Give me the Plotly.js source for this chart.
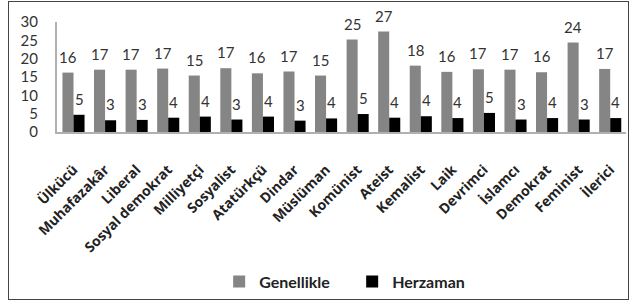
<!DOCTYPE html>
<html>
<head>
<meta charset="utf-8">
<script src="https://cdn.plot.ly/plotly-3.0.1.min.js"></script>
<style>
html,body{margin:0;padding:0;background:#fff;}
#wrap{position:relative;width:630px;height:302px;}
#chart{width:630px;height:302px;}
#frame{position:absolute;left:8px;top:1px;width:619px;height:297px;border:1.5px solid #444;pointer-events:none;}
</style>
</head>
<body>
<div id="wrap"><div id="chart"></div><div id="frame"></div></div>
<script>
const categories = ["Ülkücü","Muhafazakâr","Liberal","Sosyal demokrat","Milliyetçi","Sosyalist","Atatürkçü","Dindar","Müslüman","Komünist","Ateist","Kemalist","Laik","Devrimci","İslamcı","Demokrat","Feminist","İlerici"];
const genellikle = [16.2,17.0,17.0,17.3,15.4,17.4,16.0,16.5,15.4,25.2,27.4,18.1,16.4,17.1,17.0,16.3,24.4,17.2];
const herzaman   = [4.7,3.2,3.3,3.9,4.2,3.4,4.2,3.1,3.7,4.9,3.9,4.3,3.8,5.2,3.4,3.8,3.4,3.8];
const seriesNames = ["Genellikle","Herzaman"];
const yTicks = [0,5,10,15,20,25,30];

const fontFam = "Lato, 'Open Sans', sans-serif";
const traces = [
  {type:"bar", name:seriesNames[0], x:categories, y:genellikle, marker:{color:"#858585"}},
  {type:"bar", name:seriesNames[1], x:categories, y:herzaman, marker:{color:"#000"}}
];
const labelFont = {family:fontFam,size:15,color:"#333"};
const annotations = [];
[genellikle, herzaman].forEach((vals, s) => {
  vals.forEach((v, i) => {
    annotations.push({x:categories[i], y:v, xref:"x", yref:"y", text:String(Math.round(v)),
      showarrow:false, yanchor:"bottom", xanchor:"center", xshift:(s===0?-5.5:5.5), yshift:5,
      font:labelFont});
  });
});
const layout = {
  width:630, height:302,
  margin:{l:57, r:4, t:22, b:166},
  paper_bgcolor:"#fff", plot_bgcolor:"#fff",
  barmode:"group", bargap:0.3, bargroupgap:0,
  showlegend:true,
  legend:{orientation:"h", x:0.285, xanchor:"left", y:-1.36, yanchor:"middle",
          entrywidth:88,
          font:{family:fontFam,size:16,color:"#222",weight:"bold"}, itemwidth:30, tracegroupgap:0},
  xaxis:{tickangle:-45, showline:true, linecolor:"#b0b0b0", linewidth:2, ticks:"",
         ticklabelstandoff:22,
         tickfont:{family:"'Open Sans', sans-serif",size:14,color:"#222",weight:"bold"}, showgrid:false},
  yaxis:{range:[0,30], tickvals:yTicks, showline:true, linecolor:"#b0b0b0", linewidth:2,
         showgrid:false, zeroline:false, ticks:"", ticklabelstandoff:14,
         tickfont:{family:fontFam,size:15,color:"#333"}},
  annotations:annotations,
  font:{family:fontFam}
};
Plotly.newPlot("chart", traces, layout, {displayModeBar:false, staticPlot:true});
</script>
</body>
</html>
